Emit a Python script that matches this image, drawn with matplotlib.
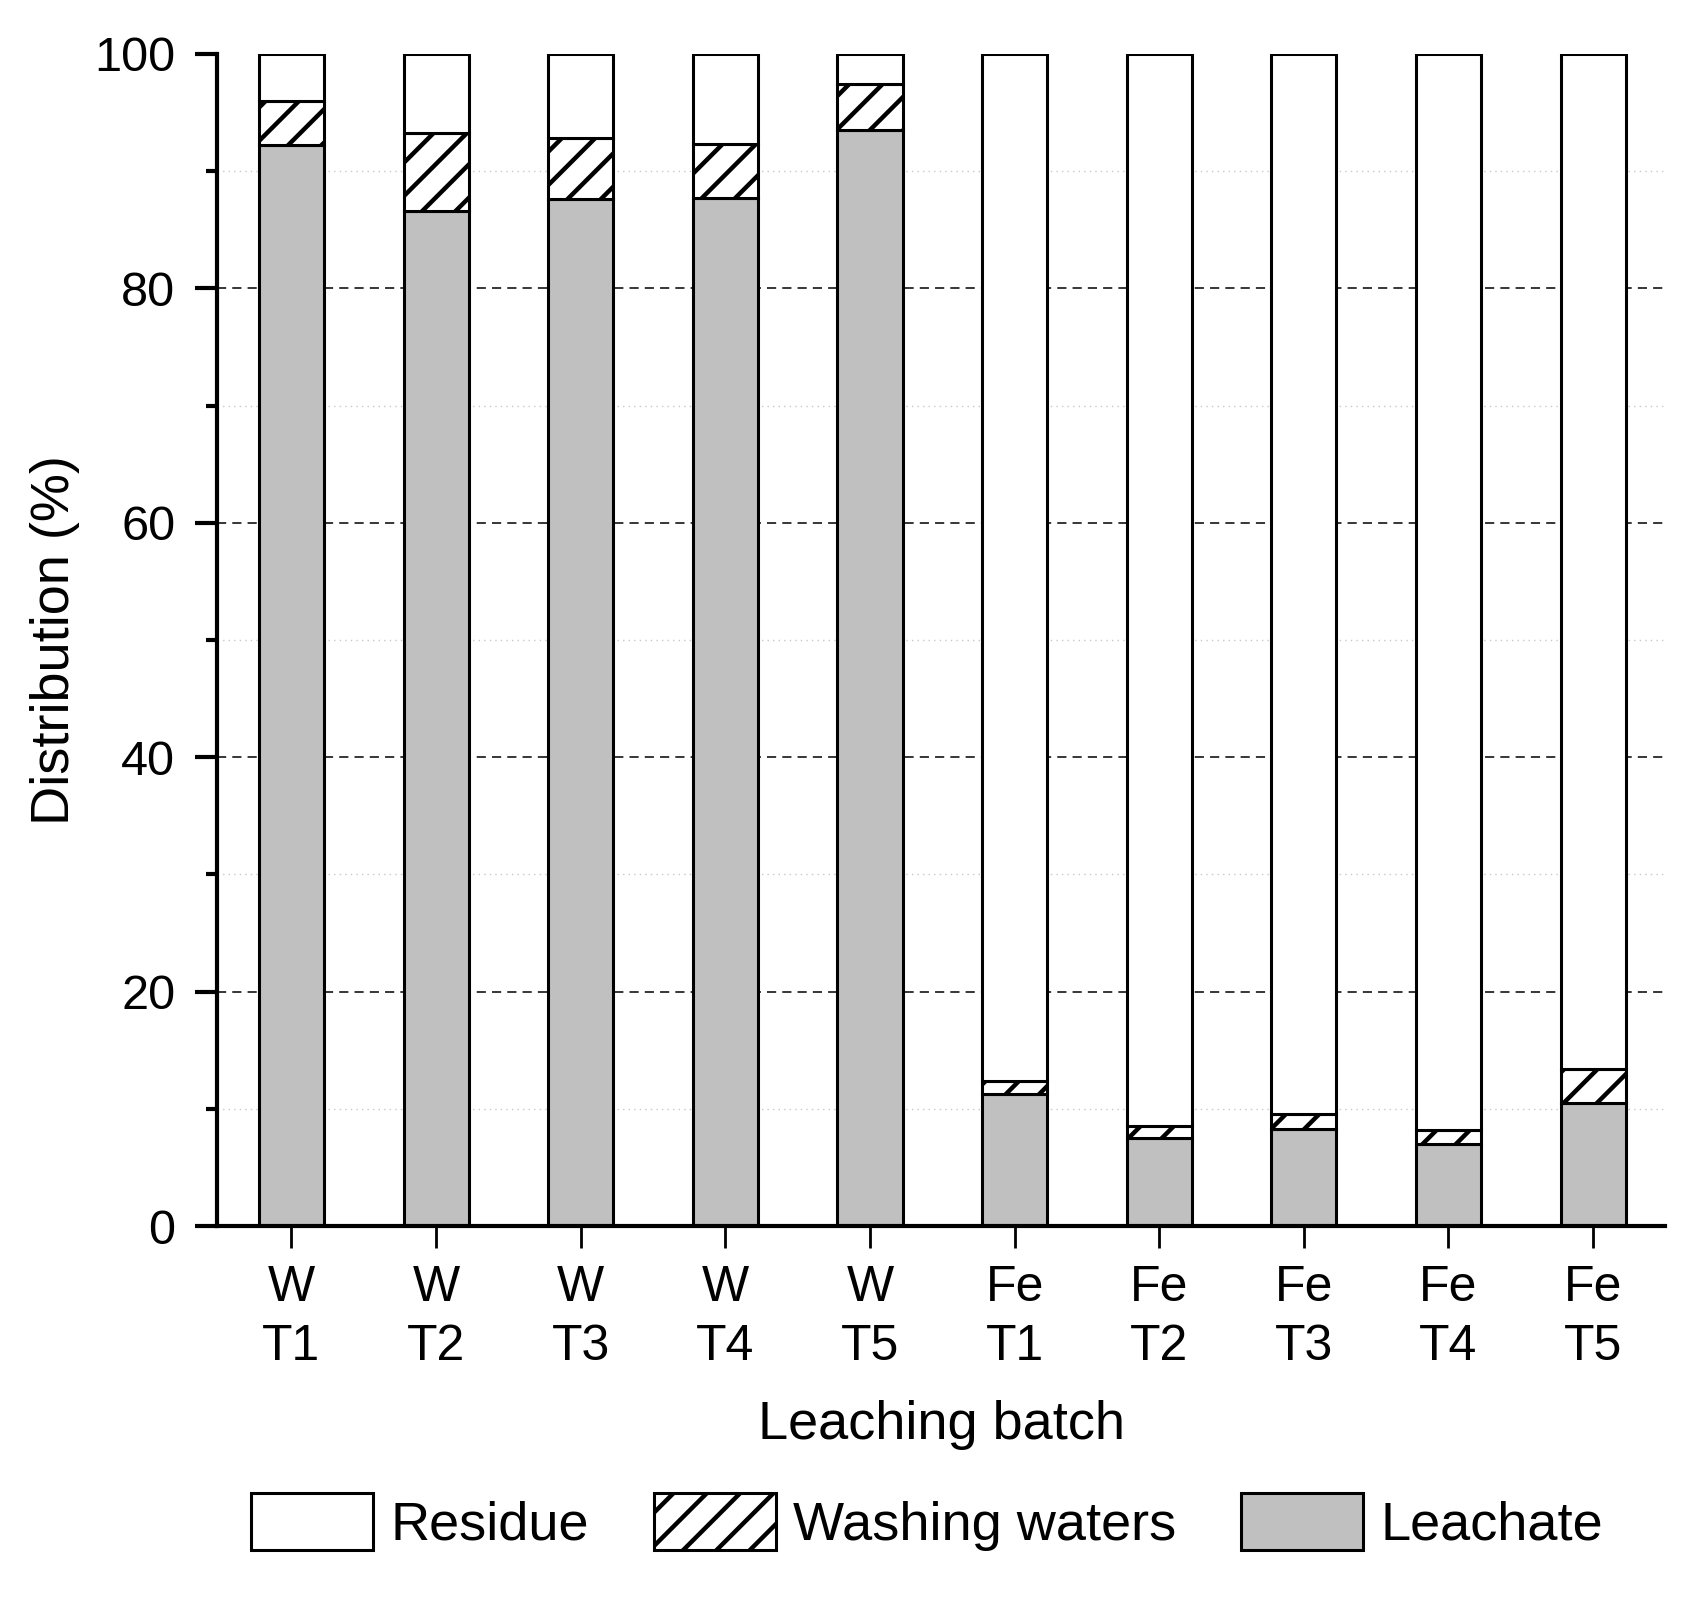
import matplotlib
matplotlib.use('Agg')
from matplotlib import pyplot as plt
from matplotlib.ticker import MultipleLocator
import numpy as np

plt.rcParams['font.family'] = ['Liberation Sans', 'DejaVu Sans']
plt.rcParams['hatch.linewidth'] = 3.2
plt.rcParams['hatch.color'] = 'black'

batches = ['W\nT1', 'W\nT2', 'W\nT3', 'W\nT4', 'W\nT5',
           'Fe\nT1', 'Fe\nT2', 'Fe\nT3', 'Fe\nT4', 'Fe\nT5']
leachate = [92.2, 86.6, 87.6, 87.7, 93.5, 11.3, 7.5, 8.3, 7.0, 10.5]
washing = [3.8, 6.7, 5.2, 4.6, 3.9, 1.1, 1.0, 1.3, 1.2, 2.9]
residue = [4.0, 6.7, 7.2, 7.7, 2.6, 87.6, 91.5, 90.4, 91.8, 86.6]

x = np.arange(len(batches))
w = 0.45
bottom2 = np.array(leachate) + np.array(washing)

fig = plt.figure(figsize=(16.98, 15.97), dpi=100)
ax = fig.add_axes([0.1278, 0.2323, 0.853, 0.7339])

b_leach = ax.bar(x, leachate, w, color='#c0c0c0', edgecolor='black', linewidth=2.2)
b_wash = ax.bar(x, washing, w, bottom=leachate, color='white', edgecolor='black',
                linewidth=2.2, hatch='/')
b_res = ax.bar(x, residue, w, bottom=bottom2, color='white', edgecolor='black', linewidth=2.2)

ax.set_xlim(-0.515, 9.5)
ax.set_ylim(0, 100)
ax.yaxis.set_major_locator(MultipleLocator(20))
ax.yaxis.set_minor_locator(MultipleLocator(10))
ax.set_xticks(x)
ax.set_xticklabels(batches, linespacing=1.35)

# grid lines behind the bars, none at 0 and 100
ax.set_axisbelow(True)
for yv in [20, 40, 60, 80]:
    ax.axhline(yv, color='black', linestyle=(0, (6, 4)), linewidth=1.1, zorder=0)
for yv in [10, 30, 50, 70, 90]:
    ax.axhline(yv, color='#c8c8c8', linestyle=(0, (1, 3)), linewidth=1.0, zorder=0)

for s in ['top', 'right']:
    ax.spines[s].set_visible(False)
for s in ['left', 'bottom']:
    ax.spines[s].set_linewidth(3)

ax.tick_params(axis='y', which='major', length=16, width=3, labelsize=35, pad=14)
ax.tick_params(axis='y', which='minor', length=8, width=3)
ax.tick_params(axis='x', which='major', length=16, width=2, labelsize=36, pad=12)

ax.set_xlabel('Leaching batch', fontsize=39, labelpad=22)
ax.set_ylabel('Distribution (%)', fontsize=39, labelpad=10)

fig.legend([b_res, b_wash, b_leach], ['Residue', 'Washing waters', 'Leachate'],
           loc='center', bbox_to_anchor=(0.546, 0.047), ncol=3, frameon=False,
           fontsize=39, handlelength=2.25, handleheight=1.25, handletextpad=0.32,
           columnspacing=1.2)

fig.savefig('out.png', dpi=100)
